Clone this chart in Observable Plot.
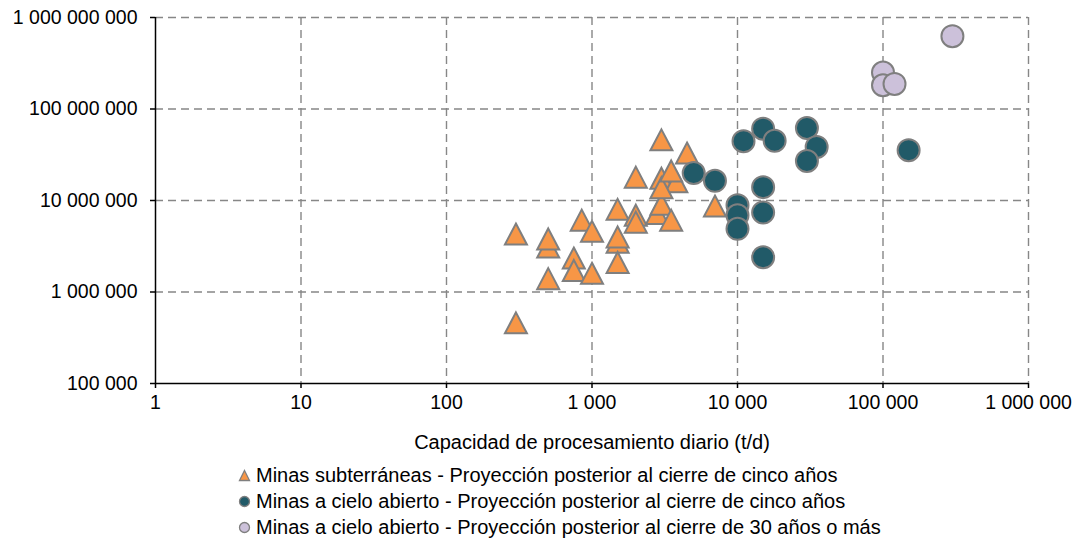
<!DOCTYPE html>
<html>
<head>
<meta charset="utf-8">
<script src="https://cdn.jsdelivr.net/npm/d3@7"></script>
<script src="https://cdn.jsdelivr.net/npm/@observablehq/plot@0.6"></script>
<style>
  html, body { margin: 0; padding: 0; background: #fff; }
  body { width: 1074px; font-family: "Liberation Sans", Arial, sans-serif; color: #000; }
  #legend { padding-top: 7px; padding-left: 238px; font-size: 20px; line-height: 26px; }
  #legend .row { display: flex; align-items: center; white-space: nowrap; }
  #legend svg { width: 13px; height: 13px; margin-right: 5px; flex: none; }
</style>
</head>
<body>
<div id="chart"></div>
<div id="legend"></div>
<script>
// Capacidad de procesamiento diario (t/d) y tonelaje proyectado
const subterraneasX = [300, 300, 500, 500, 500, 750, 750, 850, 1000, 1000, 1500, 1500, 1500, 1500,
  2000, 2000, 2000, 2800, 3000, 3000, 3800, 3000, 3000, 3500, 3500, 4500, 7000];
const subterraneasY = [4.3e6, 4.6e5, 3.1e6, 3.8e6, 1.4e6, 2.35e6, 1.72e6, 6.1e6, 4.6e6, 1.6e6, 8.0e6, 3.5e6, 4.0e6, 2.1e6,
  1.8e7, 6.9e6, 5.8e6, 7.2e6, 1.75e7, 9.1e6, 1.6e7, 1.38e7, 4.6e7, 2.1e7, 6.1e6, 3.3e7, 8.7e6];

const cincoX = [5000, 7000, 11000, 15000, 18000, 30000, 35000, 30000, 150000,
  15000, 10000, 10000, 10000, 15000, 15000];
const cincoY = [2.0e7, 1.64e7, 4.45e7, 6.1e7, 4.5e7, 6.2e7, 3.85e7, 2.7e7, 3.55e7,
  1.4e7, 8.9e6, 6.9e6, 4.9e6, 7.4e6, 2.4e6];

const treintaX = [300000, 100000, 100000, 120000];
const treintaY = [6.25e8, 2.5e8, 1.82e8, 1.88e8];

const xTicks = [1, 10, 100, 1000, 10000, 100000, 1000000];
const yTicks = [1e5, 1e6, 1e7, 1e8, 1e9];

const series = [
  {key: "sub", label: "Minas subterráneas - Proyección posterior al cierre de cinco años", fill: "#f79646", symbol: "triangle"},
  {key: "cinco", label: "Minas a cielo abierto - Proyección posterior al cierre de cinco años", fill: "#215a68", symbol: "circle"},
  {key: "treinta", label: "Minas a cielo abierto - Proyección posterior al cierre de 30 años o más", fill: "#ccc1da", symbol: "circle"}
];

const toRows = (xs, ys) => xs.map((x, i) => ({x, y: ys[i]}));
const subRows = toRows(subterraneasX, subterraneasY);
const cincoRows = toRows(cincoX, cincoY);
const treintaRows = toRows(treintaX, treintaY);

const spaced = d3.formatLocale({decimal: ",", thousands: " ", grouping: [3], currency: ["", ""]}).format(",");

// Triangle centred on its bounding box, like a spreadsheet marker
const triangleMarker = {
  draw(context, size) {
    const s = Math.sqrt(size / Math.PI) / 11;
    context.moveTo(0, -10.5 * s);
    context.lineTo(11 * s, 10.5 * s);
    context.lineTo(-11 * s, 10.5 * s);
    context.closePath();
  }
};

const gridStyle = {stroke: "#878787", strokeOpacity: 1, strokeWidth: 1.4, strokeDasharray: "8,5"};

const chart = Plot.plot({
  width: 1074,
  height: 455,
  marginLeft: 155,
  marginRight: 46,
  marginTop: 17,
  marginBottom: 72,
  style: {fontFamily: "Liberation Sans, Arial, sans-serif", fontSize: "19.5px", color: "#000", background: "#fff"},
  x: {type: "log", domain: [1, 1e6]},
  y: {type: "log", domain: [1e5, 1e9]},
  marks: [
    Plot.gridX(xTicks.slice(1), gridStyle),
    Plot.gridY(yTicks.slice(1), gridStyle),
    Plot.ruleX([1], {stroke: "#000", strokeWidth: 1.5}),
    Plot.ruleY([1e5], {stroke: "#000", strokeWidth: 1.5}),
    Plot.axisX(xTicks, {tickFormat: spaced, tickSize: 5, tickPadding: 7, stroke: "#000", strokeWidth: 1.5, fill: "#000", label: null}),
    Plot.axisY(yTicks, {tickFormat: spaced, tickSize: 5, tickPadding: 13, stroke: "#000", strokeWidth: 1.5, fill: "#000", label: null}),
    Plot.text(["Capacidad de procesamiento diario (t/d)"], {frameAnchor: "bottom", dy: 59, lineAnchor: "middle", fill: "#000", fontSize: 20}),
    Plot.dot(subRows, {x: "x", y: "y", symbol: triangleMarker, r: 11, fill: series[0].fill, fillOpacity: 1, stroke: "#7f7f7f", strokeWidth: 2, strokeLinejoin: "miter"}),
    Plot.dot(cincoRows, {x: "x", y: "y", r: 11, fill: series[1].fill, fillOpacity: 1, stroke: "#7f7f7f", strokeWidth: 2}),
    Plot.dot(treintaRows, {x: "x", y: "y", r: 11, fill: series[2].fill, fillOpacity: 1, stroke: "#7f7f7f", strokeWidth: 2})
  ]
});
document.getElementById("chart").appendChild(chart);

// Legend below the chart
const legend = d3.select("#legend");
for (const s of series) {
  const row = legend.append("div").attr("class", "row");
  const icon = row.append("svg").attr("viewBox", "0 0 13 13");
  if (s.symbol === "triangle") {
    icon.append("path").attr("d", "M6.5,1.5L11.5,11.5L1.5,11.5Z")
      .attr("fill", s.fill).attr("stroke", "#7f7f7f").attr("stroke-width", 1.3);
  } else {
    icon.append("circle").attr("cx", 6.5).attr("cy", 6.5).attr("r", 5)
      .attr("fill", s.fill).attr("stroke", "#7f7f7f").attr("stroke-width", 1.3);
  }
  row.append("span").text(s.label);
}
</script>
</body>
</html>
